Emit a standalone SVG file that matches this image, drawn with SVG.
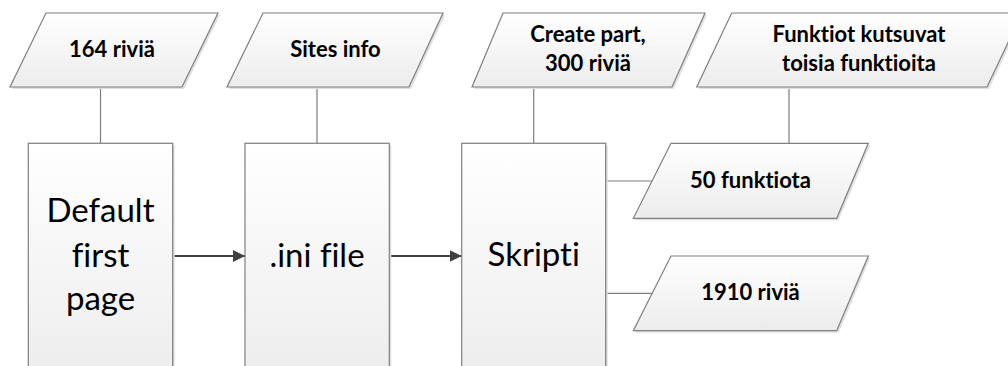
<svg xmlns="http://www.w3.org/2000/svg" width="1008" height="366" viewBox="0 0 1008 366">
  <defs>
    <linearGradient id="fillBox" x1="0" y1="0" x2="0" y2="1">
      <stop offset="0" stop-color="#ffffff"/>
      <stop offset="1" stop-color="#ebebeb"/>
    </linearGradient>
    <linearGradient id="fillData" x1="0" y1="0" x2="0" y2="1">
      <stop offset="0" stop-color="#ffffff"/>
      <stop offset="1" stop-color="#ececec"/>
    </linearGradient>
    <marker id="arrow" viewBox="0 0 12 12" refX="12" refY="6" markerWidth="12" markerHeight="12" markerUnits="userSpaceOnUse" orient="auto">
      <path d="M0,0 L12,6 L0,12 Z" fill="#404040"/>
    </marker>
    <style>
      .box { fill: url(#fillBox); stroke: #7f7f7f; stroke-width: 1.2; }
      .data { fill: url(#fillData); stroke: #7f7f7f; stroke-width: 1.2; }
      .shadow { fill: #e0e0e0; stroke: none; }
      .link { stroke: #7f7f7f; stroke-width: 1.2; fill: none; }
      .flow { stroke: #404040; stroke-width: 1.8; fill: none; marker-end: url(#arrow); }
      text { font-variant-ligatures: none; font-feature-settings: "liga" 0, "clig" 0; }
      .big { font-family: Lato, "Liberation Sans", sans-serif; font-size: 33px; fill: #000; text-anchor: middle; }
      .lbl { font-family: Lato, "Liberation Sans", sans-serif; font-size: 22px; font-weight: bold; fill: #000; text-anchor: middle; }
    </style>
  </defs>

  <!-- connectors -->
  <g id="connectors">
    <line class="link" x1="100.5" y1="87" x2="100.5" y2="143.5"/>
    <line class="link" x1="317" y1="87" x2="317" y2="143.5"/>
    <line class="link" x1="533.7" y1="87" x2="533.7" y2="143.5"/>
    <line class="link" x1="789" y1="87" x2="789" y2="143.5"/>
    <line class="link" x1="605.7" y1="181" x2="652" y2="181"/>
    <line class="link" x1="605.7" y1="293.3" x2="652" y2="293.3"/>
    <line class="flow" x1="172.7" y1="256" x2="245" y2="256"/>
    <line class="flow" x1="389.3" y1="256" x2="461.7" y2="256"/>
  </g>

  <!-- data (input/output) shapes -->
  <g id="data-164">
    <polygon class="shadow" points="48,15 220,15 184,89 12,89"/>
    <polygon class="data" points="46,13 218,13 182,87 10,87"/>
    <text class="lbl" x="112" y="57">164 riviä</text>
  </g>
  <g id="data-sites">
    <polygon class="shadow" points="265,15 445,15 411,89 229,89"/>
    <polygon class="data" points="263,13 443,13 409,87 227,87"/>
    <text class="lbl" x="335.5" y="57">Sites info</text>
  </g>
  <g id="data-create">
    <polygon class="shadow" points="505,15 707,15 674,89 474,89"/>
    <polygon class="data" points="503,13 705,13 672,87 472,87"/>
    <text class="lbl" x="588" y="41.5">Create part,</text>
    <text class="lbl" x="588" y="70.5">300 riviä</text>
  </g>
  <g id="data-calls">
    <polygon class="shadow" points="733.7,15 1024,15 989,89 698.7,89"/>
    <polygon class="data" points="731.7,13 1022,13 987,87 696.7,87"/>
    <text class="lbl" x="859" y="41.5">Funktiot kutsuvat</text>
    <text class="lbl" x="859" y="70.5">toisia funktioita</text>
  </g>
  <g id="data-funcs">
    <polygon class="shadow" points="673,145.3 870.3,145.3 838.7,220.3 635.3,220.3"/>
    <polygon class="data" points="671,143.3 868.3,143.3 836.7,218.3 633.3,218.3"/>
    <text class="lbl" x="750.5" y="187.5">50 funktiota</text>
  </g>
  <g id="data-rows">
    <polygon class="shadow" points="673,258 870.3,258 838.7,332.7 635.3,332.7"/>
    <polygon class="data" points="671,256 868.3,256 836.7,330.7 633.3,330.7"/>
    <text class="lbl" x="750.5" y="300">1910 riviä</text>
  </g>

  <!-- process boxes -->
  <g id="box-default">
    <rect class="shadow" x="30.3" y="145.3" width="144.4" height="260"/>
    <rect class="box" x="28.3" y="143.3" width="144.4" height="260"/>
    <text class="big" x="100.5" y="222">Default</text>
    <text class="big" x="100.5" y="266.5">first</text>
    <text class="big" x="100.5" y="310">page</text>
  </g>
  <g id="box-ini">
    <rect class="shadow" x="247" y="145.3" width="144.3" height="260"/>
    <rect class="box" x="245" y="143.3" width="144.3" height="260"/>
    <text class="big" x="317" y="266.5">.ini file</text>
  </g>
  <g id="box-skripti">
    <rect class="shadow" x="463.7" y="145.3" width="144" height="260"/>
    <rect class="box" x="461.7" y="143.3" width="144" height="260"/>
    <text class="big" x="533.7" y="266">Skripti</text>
  </g>
</svg>
